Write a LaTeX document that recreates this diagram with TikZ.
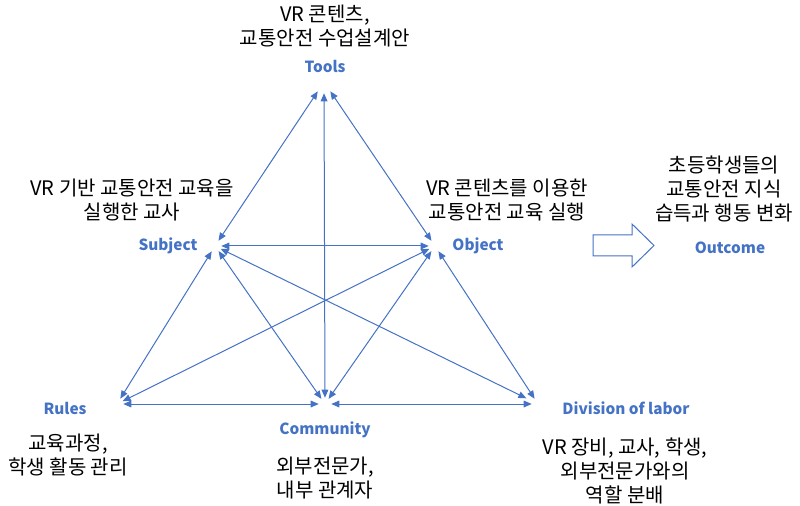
\documentclass[tikz,border=0pt]{standalone}
\usepackage{fontspec}
\setmainfont{Noto Sans CJK KR}
\usetikzlibrary{arrows.meta}
\definecolor{ob}{HTML}{4472C4}
\tikzset{
 vtx/.style={circle, minimum size=9pt, inner sep=0pt},
 lnk/.style={draw=ob, line width=0.75pt, {Triangle[length=6pt,width=5pt]}-{Triangle[length=6pt,width=5pt]}},
 lab/.style={text=ob, font=\fontsize{11.5}{14}\selectfont\bfseries, inner sep=0pt},
 desc/.style={align=center, font=\fontsize{15}{18}\selectfont, text=black, inner sep=0pt},
}
\begin{document}
\begin{tikzpicture}[x=0.75pt,y=-0.75pt]
\useasboundingbox (0,0) rectangle (800,506);
% vertices
\node[vtx, minimum size=16.5pt] (T) at (324,82) {};
\node[vtx] (S) at (215,246) {};
\node[vtx] (O) at (435,246) {};
\node[vtx] (R) at (117,404) {};
\node[vtx] (C) at (325,404) {};
\node[vtx] (D) at (538,404) {};
% connectors
\draw[lnk] (T) -- (S);
\draw[lnk] (T) -- (O);
\draw[lnk] (T) -- (C);
\draw[lnk] (S) -- (O);
\draw[lnk] (S) -- (R);
\draw[lnk] (S) -- (C);
\draw[lnk, shorten >=5pt] (S) -- (D);
\draw[lnk] (O) -- (R);
\draw[lnk] (O) -- (C);
\draw[lnk] (O) -- (D);
\draw[lnk] (R) -- (C);
\draw[lnk] (C) -- (D);
% labels
\node[lab] (tools) at (325,66) {Tools};
\node[lab] (subject) at (168,246) {Subject};
\node[lab] (object) at (478,246) {Object};
\node[lab] (rules) at (65,408) {Rules};
\node[lab] (community) at (325,430) {Community};
\node[lab] (division) at (626,408) {Division of labor};
\node[lab] (outcome) at (730,248) {Outcome};
% descriptions
\node[desc] (dtools) at (325,26) {VR 콘텐츠,\\교통안전 수업설계안};
\node[desc] (dsubject) at (132,200) {VR 기반 교통안전 교육을\\실행한 교사};
\node[desc] (dobject) at (507,200) {VR 콘텐츠를 이용한\\교통안전 교육 실행};
\node[desc] (doutcome) at (724,189) {초등학생들의\\교통안전 지식\\습득과 행동 변화};
\node[desc] (drules) at (68,455) {교육과정,\\학생 활동 관리};
\node[desc] (dcommunity) at (325,478) {외부전문가,\\내부 관계자};
\node[desc] (ddivision) at (625,471) {VR 장비, 교사, 학생,\\외부전문가와의\\역할 분배};
% outcome arrow
\draw[ob, line width=0.75pt, fill=white] (593,235) -- (632,235) -- (632,224) -- (654,245.5) -- (632,267) -- (632,256) -- (593,256) -- cycle;
\end{tikzpicture}
\end{document}
